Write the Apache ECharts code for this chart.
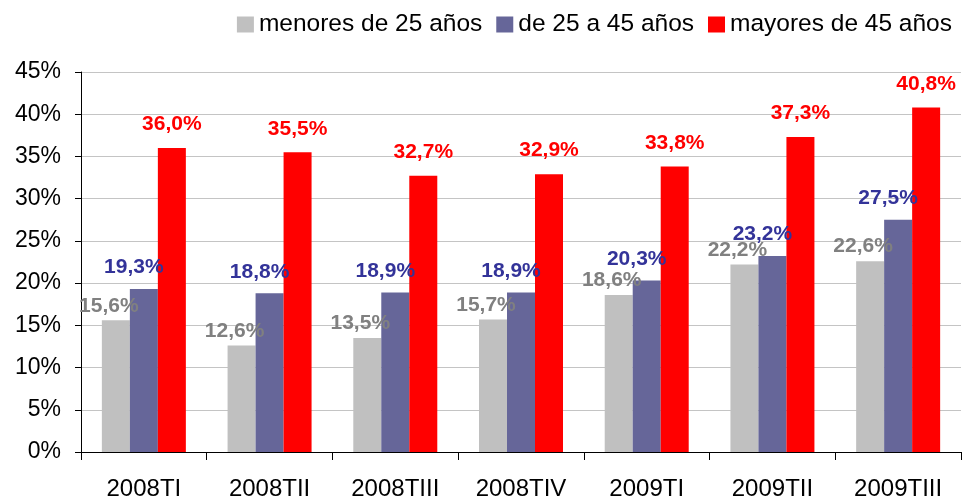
<!DOCTYPE html>
<html>
<head>
<meta charset="utf-8">
<script src="https://cdn.jsdelivr.net/npm/echarts@6/dist/echarts.min.js"></script>
<style>
  html, body { margin: 0; padding: 0; background: #fff; }
  #main { width: 965px; height: 501px; }
</style>
</head>
<body>
<div id="main"></div>
<script>
// datos
var periodos = ['2008TI', '2008TII', '2008TIII', '2008TIV', '2009TI', '2009TII', '2009TIII'];
var menores25 = [15.6, 12.6, 13.5, 15.7, 18.6, 22.2, 22.6];
var de25a45 = [19.3, 18.8, 18.9, 18.9, 20.3, 23.2, 27.5];
var mayores45 = [36.0, 35.5, 32.7, 32.9, 33.8, 37.3, 40.8];
var ticksY = [0, 5, 10, 15, 20, 25, 30, 35, 40, 45];

var myChart = echarts.init(document.getElementById('main'));

function etiqueta(color, offsetX, dist) {
  return {
    show: true,
    position: 'top',
    distance: dist,
    offset: [offsetX, 0],
    color: color,
    fontFamily: 'Liberation Sans',
    fontWeight: 'bold',
    fontSize: 21,
    formatter: function (p) { return p.value.toFixed(1).replace('.', ',') + '%'; }
  };
}

var option = {
  animation: false,
  legend: {
    right: 8,
    top: 7,
    icon: 'rect',
    itemWidth: 17,
    itemHeight: 16,
    itemGap: 14,
    textStyle: { fontFamily: 'Liberation Sans', fontSize: 24.5, color: '#000' },
    data: ['menores de 25 años', 'de 25 a 45 años', 'mayores de 45 años']
  },
  grid: { left: 81, right: 4, top: 72, bottom: 46 },
  xAxis: {
    type: 'category',
    data: periodos,
    axisLine: { lineStyle: { color: '#000', width: 1 } },
    axisTick: { show: true, length: 8, lineStyle: { color: '#000' } },
    axisLabel: { fontFamily: 'Liberation Sans', fontSize: 24, color: '#000', margin: 25 }
  },
  yAxis: {
    type: 'value',
    min: ticksY[0],
    max: ticksY[ticksY.length - 1],
    interval: 5,
    axisLine: { show: true, lineStyle: { color: '#000', width: 1 } },
    axisTick: { show: true, length: 6, lineStyle: { color: '#000' } },
    splitLine: { lineStyle: { color: '#c4c4c4', width: 1 } },
    axisLabel: { fontFamily: 'Liberation Sans', fontSize: 23, color: '#000', margin: 20, formatter: '{value}%' }
  },
  series: [
    {
      name: 'menores de 25 años',
      type: 'bar',
      data: menores25,
      barWidth: 28,
      barGap: '0%',
      itemStyle: { color: '#c0c0c0' },
      label: etiqueta('#808080', -7, 4)
    },
    {
      name: 'de 25 a 45 años',
      type: 'bar',
      data: de25a45,
      barWidth: 28,
      barGap: '0%',
      itemStyle: { color: '#666699' },
      label: etiqueta('#333399', -10, 11)
    },
    {
      name: 'mayores de 45 años',
      type: 'bar',
      data: mayores45,
      barWidth: 28,
      barGap: '0%',
      itemStyle: { color: '#ff0000' },
      label: etiqueta('#ff0000', 0, 13)
    }
  ]
};

myChart.setOption(option);
</script>
</body>
</html>
